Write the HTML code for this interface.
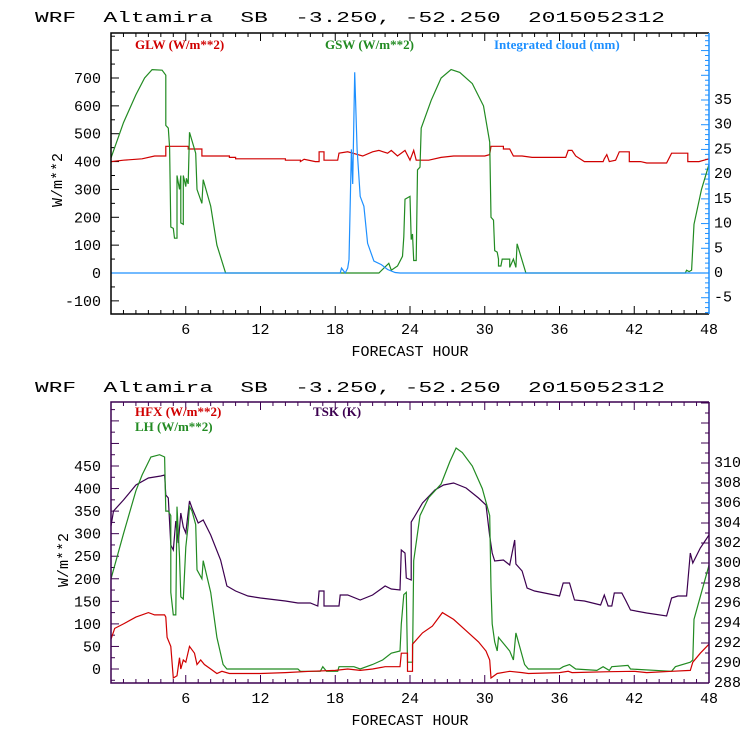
<!DOCTYPE html>
<html><head><meta charset="utf-8"><style>
body{margin:0;background:#fff}
svg{display:block}
.ax{font-family:"Liberation Mono",monospace;font-size:15px;fill:#000}
.lg{font-family:"Liberation Serif",serif;font-size:13px;font-weight:bold}
</style></head><body>
<svg id="c" width="740" height="740" xmlns="http://www.w3.org/2000/svg"></svg>
<script>
// ---------- data ----------
const xTicks=[6,12,18,24,30,36,42,48];
const topLeftTicks=[-100,0,100,200,300,400,500,600,700];
const topRightTicks=[-5,0,5,10,15,20,25,30,35];
const botLeftTicks=[0,50,100,150,200,250,300,350,400,450];
const botRightTicks=[288,290,292,294,296,298,300,302,304,306,308,310];
const glw=[[0,400],[1,405],[2.5,410],[3.5,420],[4.4,420],[4.4,455],[6.2,455],[6.2,445],[7.3,445],[7.3,420],[9.5,420],[9.5,415],[10,415],[10,410],[14,410],[14,405],[15.2,405],[15.2,400],[15.5,408],[16.4,400],[16.7,400],[16.7,435],[17.1,435],[17.1,405],[18.2,405],[18.3,430],[19,435],[19.8,425],[20.2,420],[21,435],[21.5,440],[22.2,430],[22.5,440],[23,420],[23.6,440],[24,405],[24.3,440],[24.5,405],[25.5,405],[26.5,415],[27.5,420],[30,420],[30.4,425],[30.5,455],[31.5,455],[31.5,445],[32,445],[32.3,420],[33,420],[33.8,415],[36,415],[36.5,415],[36.7,440],[37,440],[37.3,420],[38,400],[39.5,400],[39.6,410],[39.8,425],[40,400],[40.5,405],[40.8,435],[41.6,435],[41.6,400],[42.5,400],[43,395],[44.6,395],[45,430],[46.3,430],[46.3,400],[47.2,400],[47.6,405],[48,410]];
const gsw=[[0,413],[1,540],[2,640],[2.7,700],[3.3,730],[4.1,728],[4.4,710],[4.4,530],[4.6,520],[4.7,450],[4.8,165],[5.0,160],[5.1,125],[5.3,125],[5.3,350],[5.5,300],[5.6,350],[5.6,180],[5.8,175],[5.8,350],[6.0,310],[6.05,340],[6.2,320],[6.3,505],[6.8,430],[6.9,300],[7.3,250],[7.4,335],[8.0,240],[8.5,100],[9.2,0],[21.5,0],[22.3,35],[22.5,10],[23.0,25],[23.4,60],[23.5,130],[23.6,265],[24.0,275],[24.1,120],[24.2,140],[24.3,45],[24.5,45],[24.6,370],[24.8,380],[24.9,520],[25.7,620],[26.5,700],[27.3,730],[28,720],[29,680],[29.9,600],[30.4,470],[30.5,200],[30.7,190],[30.8,80],[31.0,75],[31.1,50],[31.1,25],[31.3,25],[31.4,50],[32.0,50],[32.0,20],[32.3,50],[32.5,20],[32.6,105],[33.3,0],[46.1,0],[46.2,10],[46.4,5],[46.6,10],[46.8,175],[47.4,300],[48,390]];
const cloud=[[0,0],[18.4,0],[18.5,1],[18.8,0],[19.0,1],[19.1,2.7],[19.3,25],[19.4,18],[19.56,40.6],[19.75,25],[20.0,15.5],[20.3,13.5],[20.6,6],[21.1,2.4],[21.7,1.7],[22.2,0.7],[22.8,0.1],[23.2,0],[48,0]];
const hfx=[[0,66],[0.3,90],[1,100],[2,115],[3,125],[3.5,120],[4.3,120],[4.4,115],[4.5,70],[4.8,50],[5.0,-20],[5.3,-15],[5.5,25],[5.6,0],[5.8,20],[6.0,15],[6.3,50],[6.7,35],[6.9,10],[7.2,20],[7.5,10],[8.0,0],[8.5,-10],[8.9,-5],[9.5,-10],[12,-10],[14,-8],[16,-5],[18,-3],[19,0],[20,-3],[21,0],[22,5],[23.2,5],[23.3,35],[23.8,35],[23.8,-5],[24.2,-5],[24.2,55],[25,80],[25.8,95],[26.6,125],[27.5,110],[28.5,85],[29.5,60],[30.1,40],[30.4,20],[30.5,-20],[31,-10],[32,-5],[33,-8],[33.5,-10],[36,-8],[36.7,-5],[37,-8],[40,-6],[42,-5],[43,-8],[45,-5],[46.5,-3],[46.7,15],[47.3,35],[48,55]];
const lh=[[0,200],[1,300],[2,395],[2.5,430],[3.2,470],[3.9,475],[4.3,470],[4.4,350],[4.6,350],[4.8,340],[4.8,170],[5.0,120],[5.2,120],[5.3,360],[5.5,250],[5.6,160],[5.8,155],[6.0,270],[6.2,320],[6.3,360],[6.5,350],[6.8,320],[6.9,220],[7.3,200],[7.4,240],[8.0,170],[8.5,70],[9.0,10],[9.3,0],[15,0],[15.2,-5],[16.8,-5],[17.0,5],[17.3,-5],[18.2,-5],[18.3,5],[19.5,5],[20,0],[21,10],[21.8,20],[22.5,35],[23.2,40],[23.3,100],[23.5,165],[23.7,170],[23.8,15],[24.2,15],[24.3,240],[24.8,340],[25.5,380],[26.5,410],[27.2,460],[27.7,490],[28.2,480],[29,450],[29.8,400],[30.4,340],[30.5,180],[30.6,100],[30.8,60],[31.0,40],[31.1,70],[31.4,60],[31.7,50],[32.0,40],[32.3,20],[32.5,80],[33.2,10],[33.5,0],[36,0],[36.3,5],[36.8,10],[37.3,0],[39,-3],[39.5,5],[40,-3],[40.2,5],[41.5,8],[41.7,0],[45,-5],[45.3,5],[46.5,15],[46.7,20],[46.8,110],[47.2,150],[48,230]];
const tsk=[[0,303.7],[0.2,305.2],[1,306.3],[2,307.8],[3,308.5],[4,308.7],[4.3,308.8],[4.4,306.8],[4.6,306.5],[4.8,301.8],[5.0,301.3],[5.2,304.2],[5.4,302],[5.6,305],[5.8,303.6],[6.0,303],[6.3,306.2],[6.5,305.5],[7.0,304],[7.4,304.3],[8.0,302.8],[8.8,300.3],[9.3,297.7],[10,297.2],[11,296.7],[12,296.5],[14,296.2],[15,296],[16,296],[16.6,295.7],[16.7,297.2],[17.1,297.2],[17.1,295.7],[18.3,295.7],[18.4,296.8],[19,296.8],[20,296.3],[21,296.8],[22,297.7],[22.5,297.4],[23.2,297.3],[23.3,301.3],[23.6,301],[23.7,298.5],[24.1,298.3],[24.1,304.1],[24.3,304.5],[25,306],[26,307.3],[26.7,307.8],[27.5,308],[28.5,307.5],[29.5,306.5],[30.1,305.8],[30.4,302.7],[30.6,301],[30.8,300.2],[31.5,300.3],[32.0,299.8],[32.4,302.3],[32.5,299.9],[33.0,299.2],[33.4,297.5],[34,297.2],[36,296.7],[36.3,298],[36.8,298],[37.2,296.3],[38,296.2],[39.3,295.8],[39.6,296.8],[39.9,295.7],[40.2,295.7],[40.4,297],[41.0,297],[41.3,296.3],[41.7,295.3],[43,295],[44.6,294.7],[45.0,296.5],[45.5,296.7],[46.2,296.7],[46.5,301],[46.7,300],[47.3,301.5],[48,302.8]];

// ---------- drawing ----------
const NS="http://www.w3.org/2000/svg", svg=document.getElementById('c');
function mk(tag,attrs,parent){const e=document.createElementNS(NS,tag);for(const k in attrs)e.setAttribute(k,attrs[k]);(parent||svg).appendChild(e);return e;}
const X0=111,X1=709;
const xs=h=>X0+(X1-X0)*h/48;
function linear(v0,p0,v1,p1){return v=>p0+(v-v0)*(p1-p0)/(v1-v0);}

function title(y){
  const t=mk('text',{x:35,y:y,class:'ax','font-size':'21',textLength:630,lengthAdjust:'spacingAndGlyphs'});
  
  
  t.textContent='WRF\u00a0\u00a0Altamira\u00a0\u00a0SB\u00a0\u00a0-3.250,\u00a0-52.250\u00a0\u00a02015052312';
}
function series(data,sx,sy,color,name){
  const pts=data.map(d=>sx(d[0]).toFixed(1)+','+sy(d[1]).toFixed(1)).join(' ');
  const p=mk('polyline',{points:pts,fill:'none',stroke:color,'stroke-width':1.2});
  
  
}
function panel(o){
  const g=mk('g',{});
  
  
  const {top,bot}=o;
  for(let h=1;h<48;h++){const x=xs(h),L=(h%6===0)?8:4;
    mk('line',{x1:x,y1:bot,x2:x,y2:bot-L,stroke:o.frame},g);
    mk('line',{x1:x,y1:top,x2:x,y2:top+L,stroke:o.frame},g);}
  xTicks.forEach(h=>{const t=mk('text',{x:xs(h),y:bot+20,class:'ax','text-anchor':'middle'},g);
    
    
    t.textContent=h;});
  const xt=mk('text',{x:410,y:bot+42,class:'ax','text-anchor':'middle'},g);
  
  
  xt.textContent='FORECAST HOUR';
  for(let v=o.lMin;v<=o.lMax;v+=o.lMinor){const y=o.ly(v);if(y<top||y>bot)continue;
    const major=Math.abs(v%o.lMajor)<1e-6;
    mk('line',{x1:X0,y1:y,x2:X0+(major?8:4),y2:y,stroke:o.frame},g);}
  o.lTicks.forEach(v=>{const t=mk('text',{x:X0-10,y:o.ly(v)+5,class:'ax','text-anchor':'end'},g);
    
    
    t.textContent=v;});
  for(let v=o.rMin;v<=o.rMax;v+=o.rMinor){const y=o.ry(v);if(y<top||y>bot)continue;
    const major=Math.abs((v-o.rTicks[0])%o.rMajor)<1e-6;
    mk('line',{x1:X1,y1:y,x2:X1-(major?8:4),y2:y,stroke:o.rColor},g);}
  o.rTicks.forEach(v=>{const t=mk('text',{x:X1+5,y:o.ry(v)+4,class:'ax','font-size':o.rFont},g);
    
    
    t.textContent=v;});
  const yt=mk('text',{x:0,y:0,class:'ax','font-size':'20','text-anchor':'middle',transform:`translate(${o.ytx},${o.yty}) rotate(-90)`},g);
  
  
  yt.textContent='W/m**2';
  return g;
}
function frame(top,bot,c,rc){
  mk('path',{d:`M${X1},${bot}H${X0}V${top}H${X1}`,fill:'none',stroke:c,'stroke-width':1.5});
  mk('line',{x1:X1,y1:top,x2:X1,y2:bot,stroke:rc,'stroke-width':1.5});
}
function legend(x,y,txt,col,name){
  const t=mk('text',{x:x,y:y,class:'lg',fill:col});
  
  
  t.textContent=txt;
}

// ---- top panel ----
title(22);
const tT=33,tB=314;
const tly=linear(0,273,700,78), trY=linear(0,273,35,100);
panel({name:'top-panel',top:tT,bot:tB,frame:'#000',ly:tly,ry:trY,lMin:-150,lMax:950,lMinor:50,lMajor:100,lTicks:topLeftTicks,
  rMin:-8,rMax:50,rMinor:1,rMajor:5,rTicks:topRightTicks,rColor:'#1e90ff',rFont:15,ytx:62,yty:180});
series(glw,xs,tly,'#d00000','glw-line');
series(gsw,xs,tly,'#228b22','gsw-line');
series(cloud,xs,trY,'#1e90ff','cloud-line');
frame(tT,tB,'#000','#1e90ff');
legend(135,49,'GLW (W/m**2)','#d00000','legend-glw');
legend(325,49,'GSW (W/m**2)','#228b22','legend-gsw');
legend(494,49,'Integrated cloud (mm)','#1e90ff','legend-cloud');

// ---- bottom panel ----
title(392);
const bT=402,bB=683;
const bly=linear(0,669,450,466), bry=linear(288,683,310,463);
panel({name:'bottom-panel',top:bT,bot:bB,frame:'#3c0050',ly:bly,ry:bry,lMin:-25,lMax:650,lMinor:25,lMajor:50,lTicks:botLeftTicks,
  rMin:288,rMax:318,rMinor:1,rMajor:2,rTicks:botRightTicks,rColor:'#3c0050',rFont:11,ytx:68,yty:560});
series(tsk,xs,bry,'#3c0050','tsk-line');
series(lh,xs,bly,'#228b22','lh-line');
series(hfx,xs,bly,'#d00000','hfx-line');
frame(bT,bB,'#3c0050','#3c0050');
legend(135,416,'HFX (W/m**2)','#d00000','legend-hfx');
legend(135,431,'LH  (W/m**2)','#228b22','legend-lh');
legend(313,416,'TSK (K)','#3c0050','legend-tsk');
</script>
</body></html>
